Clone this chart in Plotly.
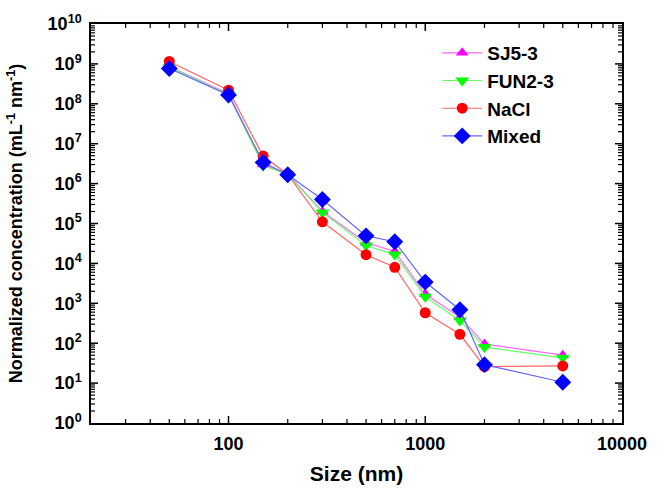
import math
import plotly.graph_objects as go

# particle size bins (nm)
size_nm = [50, 100, 150, 200, 300, 500, 700, 1000, 1500, 2000, 5000]

# normalized concentration per sample (mL^-1 nm^-1)
sj5_3 = [8.6e8, 1.8e8, 3.0e6, 1.75e6, 2.0e5, 3.3e4, 2.0e4, 1.7e3, 4.5e2, 95, 50]
fun2_3 = [8.3e8, 1.7e8, 2.8e6, 1.7e6, 1.9e5, 2.8e4, 1.66e4, 1.45e3, 3.7e2, 80, 43]
nacl = [1.15e9, 2.2e8, 4.9e6, 1.7e6, 1.1e5, 1.65e4, 8.0e3, 5.8e2, 1.67e2, 26, 27]
mixed = [7.7e8, 1.66e8, 3.4e6, 1.66e6, 4.0e5, 4.9e4, 3.5e4, 3.4e3, 6.9e2, 29, 10.5]

series = [
    ("SJ5-3", sj5_3, "#ff00ff", "#ff66ff", "triangle-up", 11),
    ("FUN2-3", fun2_3, "#00ff00", "#66ff66", "triangle-down", 12),
    ("NaCl", nacl, "#ff0000", "#ff6666", "circle", 11),
    ("Mixed", mixed, "#0000ff", "#6666ff", "diamond", 13),
]

y_exps = list(range(0, 11))
y_tickvals = [10 ** e for e in y_exps]
y_ticktext = [f"10<sup>{e}</sup>" for e in y_exps]
y_minor = [m * 10 ** e for e in range(0, 10) for m in range(2, 10)]

x_tickvals = [100, 1000, 10000]
x_ticktext = ["100", "1000", "10000"]
x_minor = [m * 10 ** e for e in range(1, 4) for m in range(2, 10) if m * 10 ** e >= 30]

X_RANGE = [math.log10(20), 4]
Y_RANGE = [0, 10]

fig = go.Figure()
for name, vals, mcol, lcol, sym, msize in series:
    fig.add_trace(go.Scatter(
        x=size_nm, y=vals, name=name, mode="lines+markers",
        line=dict(color=lcol, width=1.2),
        marker=dict(color=mcol, symbol=sym, size=msize, line=dict(width=0)),
    ))


def frac(v, rng):
    return (math.log10(v) - rng[0]) / (rng[1] - rng[0])


# inward tick marks on all four sides of the frame
tick_shapes = []
for vals, length, width in ((x_tickvals, 7, 1.5), (x_minor, 4, 1.2)):
    for v in vals:
        f = frac(v, X_RANGE)
        if not 0 < f < 1:
            continue
        for anchor, sign in ((0, 1), (1, -1)):
            tick_shapes.append(dict(
                type="line", xref="paper", yref="paper",
                x0=f, x1=f, ysizemode="pixel", yanchor=anchor,
                y0=0, y1=sign * length,
                line=dict(color="black", width=width),
            ))
for vals, length, width in ((y_tickvals, 7, 1.5), (y_minor, 4, 1.2)):
    for v in vals:
        f = frac(v, Y_RANGE)
        if not 0 < f < 1:
            continue
        for anchor, sign in ((0, 1), (1, -1)):
            tick_shapes.append(dict(
                type="line", xref="paper", yref="paper",
                y0=f, y1=f, xsizemode="pixel", xanchor=anchor,
                x0=0, x1=sign * length,
                line=dict(color="black", width=width),
            ))

font_family = "Liberation Sans, Arial, sans-serif"
tick_font = dict(size=18, family=font_family, weight="bold")

fig.update_layout(
    width=659, height=494,
    margin=dict(l=91, r=25, t=18, b=71),
    paper_bgcolor="white", plot_bgcolor="white",
    font=dict(family=font_family, color="black"),
    showlegend=True,
    shapes=tick_shapes,
    legend=dict(
        x=0.652, y=0.975, xanchor="left", yanchor="top",
        bgcolor="rgba(0,0,0,0)", borderwidth=0,
        font=dict(size=19, family=font_family, weight="bold"),
        itemwidth=40, tracegroupgap=0,
    ),
    xaxis=dict(
        type="log", range=X_RANGE,
        showline=True, linecolor="black", linewidth=1.5, mirror=True,
        ticks="", tickmode="array", tickvals=x_tickvals, ticktext=x_ticktext,
        tickfont=tick_font, ticklabeloverflow="allow", ticklabelstandoff=4,
        showgrid=False, zeroline=False,
        title=dict(text="Size (nm)", font=dict(size=21, family=font_family, weight="bold"), standoff=13),
    ),
    yaxis=dict(
        type="log", range=Y_RANGE,
        showline=True, linecolor="black", linewidth=1.5, mirror=True,
        ticks="", tickmode="array", tickvals=y_tickvals, ticktext=y_ticktext,
        tickfont=tick_font, ticklabeloverflow="allow", ticklabelstandoff=4,
        showgrid=False, zeroline=False,
        title=dict(text="Normalized concentration (mL<sup>-1</sup> nm<sup>-1</sup>)",
                   font=dict(size=18, family=font_family, weight="bold"), standoff=20),
    ),
)

fig.write_html("out.html")
